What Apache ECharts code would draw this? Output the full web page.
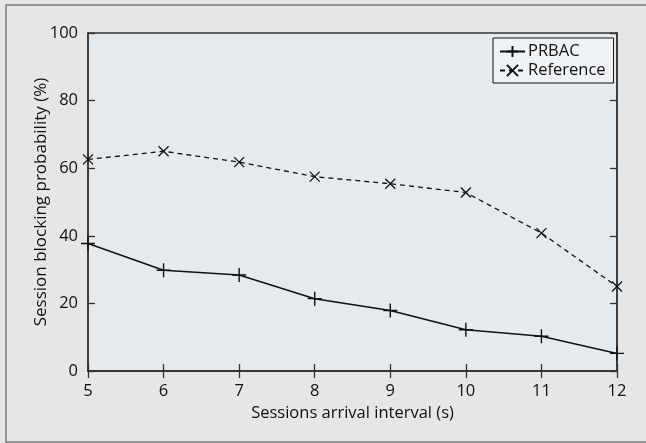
<!DOCTYPE html>
<html>
<head>
<meta charset="utf-8">
<script src="https://cdn.jsdelivr.net/npm/echarts@6/dist/echarts.min.js"></script>
<style>
html,body{margin:0;padding:0;background:#e6e6e6;}
#chart{width:646px;height:443px;}
</style>
</head>
<body>
<div id="chart"></div>
<script>
var intervals = [5, 6, 7, 8, 9, 10, 11, 12];
var prbac = [37.7, 29.8, 28.4, 21.4, 17.9, 12.2, 10.3, 5.2];
var reference = [62.6, 65.0, 61.8, 57.5, 55.4, 52.8, 40.8, 25.0];
var seriesNames = ['PRBAC', 'Reference'];
var xTitle = 'Sessions arrival interval (s)';
var yTitle = 'Session blocking probability (%)';

function pairs(xs, ys) { return xs.map(function (x, i) { return [x, ys[i]]; }); }

var FONT = '"Open Sans", "DejaVu Sans", sans-serif';
var plusPath = 'path://M0,6 L12,6 M6,0 L6,12';
var crossPath = 'path://M0,0 L10,10 M0,10 L10,0';
var axisCol = '#333';

var chart = echarts.init(document.getElementById('chart'), null, {renderer: 'canvas'});
chart.setOption({
  animation: false,
  backgroundColor: '#e6e6e6',
  textStyle: {fontFamily: FONT},
  graphic: [{
    type: 'rect', z: -10, silent: true,
    shape: {x: 6, y: 5, width: 700, height: 437},
    style: {fill: '#e6e6e6', stroke: '#7a7a7a', lineWidth: 1.5}
  }],
  grid: {
    left: 88, top: 33, right: 29, bottom: 72,
    show: true, backgroundColor: '#e5eaee', borderColor: axisCol, borderWidth: 1.5
  },
  legend: {
    orient: 'vertical', left: 493, top: 38,
    data: seriesNames,
    backgroundColor: '#eef2f5', borderColor: '#111', borderWidth: 1,
    padding: [5, 8, 4, 6], itemGap: 2, itemWidth: 25, itemHeight: 14,
    textStyle: {fontFamily: FONT, fontSize: 16.5, color: '#111', padding: [0, 0, 0, -2]}
  },
  xAxis: [{
    type: 'value', min: 5, max: 12, interval: 1,
    name: xTitle, nameLocation: 'middle', nameGap: 34, nameMoveOverlap: false,
    nameTextStyle: {fontFamily: FONT, fontSize: 16.5, color: '#111'},
    axisLine: {lineStyle: {color: axisCol, width: 1.5}},
    axisTick: {inside: true, length: 7, lineStyle: {color: axisCol, width: 1.3}},
    axisLabel: {fontFamily: FONT, fontSize: 16.5, color: '#111', margin: 12},
    splitLine: {show: false}
  }, {
    type: 'value', min: 5, max: 12, interval: 1, position: 'top',
    axisLine: {lineStyle: {color: axisCol, width: 1.5}},
    axisTick: {inside: true, length: 7, lineStyle: {color: axisCol, width: 1.3}},
    axisLabel: {show: false}, splitLine: {show: false}
  }],
  yAxis: [{
    type: 'value', min: 0, max: 100, interval: 20,
    name: yTitle, nameLocation: 'middle', nameGap: 38, nameMoveOverlap: false,
    nameTextStyle: {fontFamily: FONT, fontSize: 17, color: '#111'},
    axisLine: {show: true, lineStyle: {color: axisCol, width: 1.5}},
    axisTick: {show: true, inside: true, length: 7, lineStyle: {color: axisCol, width: 1.3}},
    axisLabel: {fontFamily: FONT, fontSize: 16.5, color: '#111', margin: 10},
    splitLine: {show: false}
  }, {
    type: 'value', min: 0, max: 100, interval: 20, position: 'right',
    axisLine: {show: true, lineStyle: {color: axisCol, width: 1.5}},
    axisTick: {show: true, inside: true, length: 7, lineStyle: {color: axisCol, width: 1.3}},
    axisLabel: {show: false}, splitLine: {show: false}
  }],
  series: [{
    name: seriesNames[0], type: 'line',
    data: pairs(intervals, prbac),
    symbol: plusPath, symbolSize: 14, showAllSymbol: true,
    lineStyle: {color: '#111', width: 1.5, type: 'solid'},
    itemStyle: {color: '#111', borderColor: '#111', borderWidth: 1.4}
  }, {
    name: seriesNames[1], type: 'line',
    data: pairs(intervals, reference),
    symbol: crossPath, symbolSize: 10, showAllSymbol: true,
    lineStyle: {color: '#111', width: 1.3, type: [5, 4]},
    itemStyle: {color: '#111', borderColor: '#111', borderWidth: 1.3}
  }]
});
</script>
</body>
</html>
